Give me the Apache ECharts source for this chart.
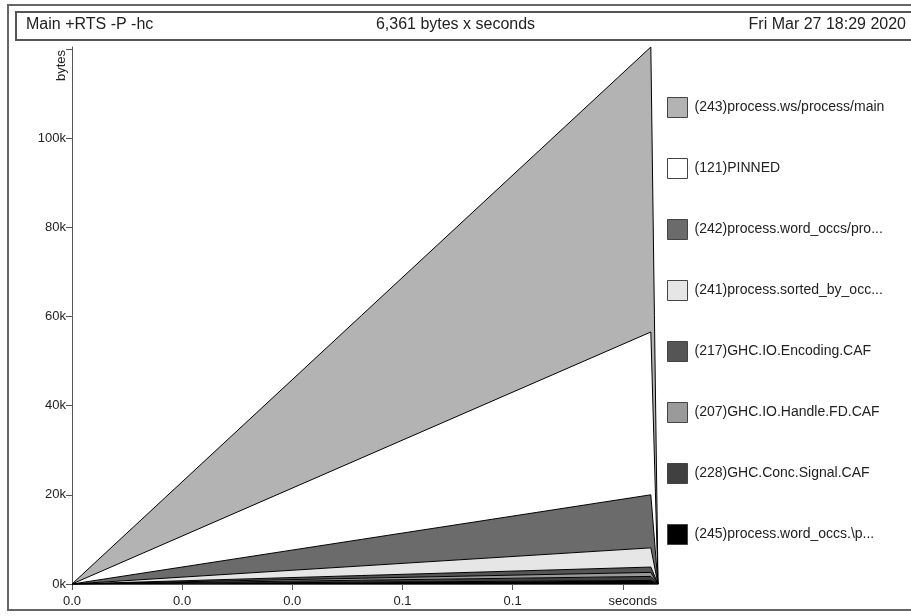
<!DOCTYPE html>
<html>
<head>
<meta charset="utf-8">
<script src="https://cdn.jsdelivr.net/npm/echarts@6/dist/echarts.min.js"></script>
<style>
  html, body { margin: 0; padding: 0; background: #fff; }
  #chart { width: 911px; height: 616px; }
</style>
</head>
<body>
<div id="chart"></div>
<script>
// sample times (seconds)
const times = [0, 0.1051, 0.1064];

// cost centres, bottom of the stack first
const bandNames = [
    '(245)process.word_occs.\\p...',
    '(228)GHC.Conc.Signal.CAF',
    '(207)GHC.IO.Handle.FD.CAF',
    '(217)GHC.IO.Encoding.CAF',
    '(241)process.sorted_by_occ...',
    '(242)process.word_occs/pro...',
    '(121)PINNED',
    '(243)process.ws/process/main'
];
const bandColors = ['#000000', '#404040', '#9a9a9a', '#555555', '#e6e6e6', '#6b6b6b', '#ffffff', '#b3b3b3'];

// bytes at each sample, one array per band
const bytes245 = [0, 800, 0];
const bytes228 = [0, 900, 0];
const bytes207 = [0, 900, 0];
const bytes217 = [0, 1200, 0];
const bytes241 = [0, 4300, 0];
const bytes242 = [0, 11900, 0];
const bytes121 = [0, 36500, 0];
const bytes243 = [0, 63900, 0];
const bandValues = [bytes245, bytes228, bytes207, bytes217, bytes241, bytes242, bytes121, bytes243];

const yTicks = [0, 20000, 40000, 60000, 80000, 100000];

const font = 'Liberation Sans, Arial, sans-serif';

const chart = echarts.init(document.getElementById('chart'));

// value first so that the stack is done on bytes, not on time
const series = bandNames.map((name, i) => ({
    name: name,
    type: 'line',
    stack: 'heap',
    symbol: 'none',
    animation: false,
    encode: { x: 1, y: 0 },
    data: times.map((t, j) => [bandValues[i][j], t]),
    lineStyle: { color: '#000', width: 1 },
    itemStyle: { color: bandColors[i], borderColor: '#444', borderWidth: 1 },
    areaStyle: { color: bandColors[i], opacity: 1 }
}));

chart.setOption({
    backgroundColor: '#fff',
    animation: false,
    grid: { left: 72, right: 253, top: 47, bottom: 32 },
    xAxis: {
        type: 'value',
        min: 0,
        max: times[times.length - 1],
        interval: 0.02,
        splitLine: { show: false },
        axisLine: { lineStyle: { color: '#555', width: 1 } },
        axisTick: { show: true, length: 6, lineStyle: { color: '#555' } },
        axisLabel: {
            color: '#222', fontFamily: font, fontSize: 13, margin: 11,
            showMaxLabel: false,
            formatter: (v) => (v > 0.099 ? '{s|seconds}' : v.toFixed(1)),
            rich: { s: { fontFamily: font, fontSize: 13, color: '#222', padding: [0, 0, 0, 20] } }
        }
    },
    yAxis: {
        type: 'value',
        min: 0,
        max: 120400,
        interval: 20000,
        splitLine: { show: false },
        axisLine: { show: true, lineStyle: { color: '#555', width: 1 } },
        axisTick: { show: true, length: 6, lineStyle: { color: '#555' } },
        axisLabel: {
            color: '#222', fontFamily: font, fontSize: 13, margin: 6,
            padding: [0, 0, 6, 0],
            showMaxLabel: false,
            formatter: (v) => (yTicks.indexOf(v) >= 0 ? (v / 1000) + 'k' : '')
        }
    },
    legend: {
        orient: 'vertical',
        left: 667,
        top: 97,
        padding: 0,
        itemWidth: 20,
        itemHeight: 20,
        itemGap: 40,
        icon: 'rect',
        selectedMode: false,
        data: bandNames.slice().reverse(),
        itemStyle: { borderColor: '#444', borderWidth: 1 },
        textStyle: { color: '#222', fontFamily: font, fontSize: 14, padding: [0, 0, 0, 2] }
    },
    graphic: [
        {
            type: 'rect', silent: true,
            shape: { x: 8, y: 5, width: 910, height: 605 },
            style: { fill: 'none', stroke: '#666', lineWidth: 2 }
        },
        {
            type: 'rect', silent: true,
            shape: { x: 16, y: 12, width: 900, height: 28 },
            style: { fill: 'none', stroke: '#555', lineWidth: 2 }
        },
        {
            type: 'text', left: 26, top: 17,
            style: { text: 'Main +RTS -P -hc', fontFamily: font, fontSize: 16, fill: '#222' }
        },
        {
            type: 'text', left: 'center', top: 17,
            style: { text: '6,361 bytes x seconds', fontFamily: font, fontSize: 16, fill: '#222' }
        },
        {
            type: 'text', right: 5, top: 17,
            style: { text: 'Fri Mar 27 18:29 2020', fontFamily: font, fontSize: 16, fill: '#222' }
        },
        {
            type: 'text', x: 55, y: 81, rotation: Math.PI / 2,
            style: { text: 'bytes', fontFamily: font, fontSize: 13, fill: '#222' }
        }
    ],
    series: series
});
</script>
</body>
</html>
